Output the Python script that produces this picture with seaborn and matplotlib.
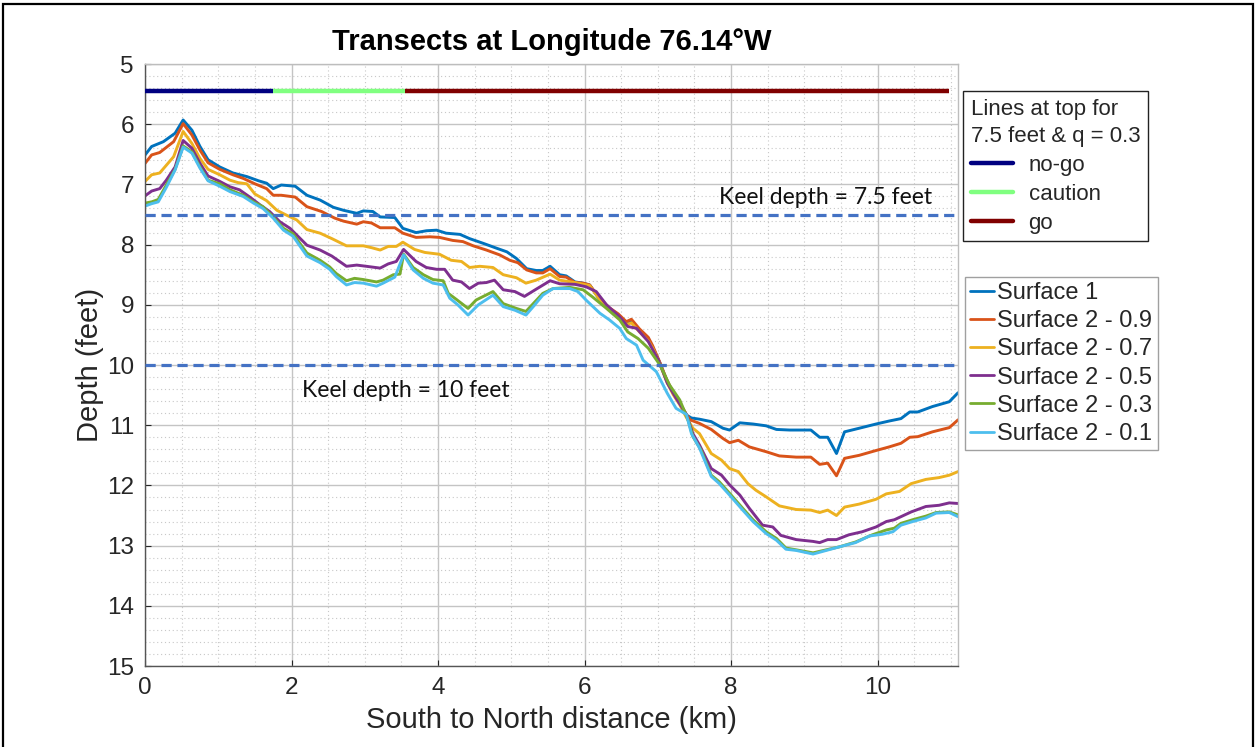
import numpy as np
import pandas as pd
import matplotlib
matplotlib.use("Agg")
import matplotlib.pyplot as plt
from matplotlib.lines import Line2D
from matplotlib.patches import Rectangle
from matplotlib.ticker import MultipleLocator
import seaborn as sns

# ---- transect depth profiles (distance in km, depth in feet) ----
s1_km = [0.0, 0.09, 0.25, 0.41, 0.52, 0.64, 0.75, 0.86, 1.02, 1.20, 1.39, 1.55, 1.66, 1.75, 1.86,
         2.05, 2.21, 2.39, 2.57, 2.71, 2.89, 2.98, 3.11, 3.21, 3.41, 3.52, 3.70, 3.84, 3.98, 4.11,
         4.30, 4.43, 4.62, 4.80, 4.94, 5.07, 5.21, 5.34, 5.43, 5.53, 5.66, 5.75, 5.87, 5.98, 6.07,
         6.21, 6.34, 6.46, 6.57, 6.64, 6.75, 6.87, 6.93, 7.03, 7.12, 7.21, 7.30, 7.39, 7.46, 7.57,
         7.73, 7.89, 7.98, 8.12, 8.30, 8.48, 8.62, 8.80, 9.09, 9.21, 9.32, 9.44, 9.55, 9.75, 9.98,
         10.16, 10.32, 10.44, 10.55, 10.75, 10.98, 11.10]
s1_depth = [6.51, 6.37, 6.29, 6.15, 5.93, 6.10, 6.37, 6.59, 6.71, 6.81, 6.87, 6.94, 6.98, 7.07, 7.01,
            7.03, 7.18, 7.26, 7.38, 7.43, 7.48, 7.44, 7.45, 7.54, 7.55, 7.73, 7.80, 7.77, 7.76, 7.81,
            7.83, 7.90, 7.98, 8.06, 8.12, 8.23, 8.40, 8.43, 8.43, 8.36, 8.50, 8.52, 8.62, 8.64, 8.67,
            8.92, 9.07, 9.17, 9.31, 9.26, 9.42, 9.56, 9.70, 9.97, 10.25, 10.47, 10.64, 10.83, 10.88, 10.90,
            10.94, 11.05, 11.08, 10.96, 10.98, 11.01, 11.07, 11.08, 11.08, 11.20, 11.20, 11.47, 11.11, 11.05, 10.98,
            10.93, 10.89, 10.78, 10.78, 10.69, 10.61, 10.46]

s09_km = [0.0, 0.09, 0.20, 0.39, 0.52, 0.64, 0.75, 0.86, 1.02, 1.20, 1.34, 1.50, 1.66, 1.75, 1.86,
          2.05, 2.21, 2.41, 2.59, 2.71, 2.89, 2.98, 3.09, 3.21, 3.41, 3.52, 3.70, 3.89, 4.02, 4.20,
          4.34, 4.48, 4.66, 4.84, 4.98, 5.09, 5.21, 5.34, 5.43, 5.53, 5.66, 5.75, 5.87, 5.98, 6.07,
          6.21, 6.34, 6.46, 6.57, 6.64, 6.75, 6.87, 6.93, 7.03, 7.12, 7.21, 7.30, 7.39, 7.44, 7.57,
          7.73, 7.89, 7.98, 8.10, 8.25, 8.48, 8.66, 8.89, 9.09, 9.21, 9.32, 9.44, 9.55, 9.75, 9.98,
          10.16, 10.32, 10.44, 10.55, 10.75, 10.98, 11.10]
s09_depth = [6.65, 6.51, 6.47, 6.29, 5.99, 6.18, 6.43, 6.64, 6.75, 6.84, 6.90, 6.99, 7.07, 7.18, 7.18,
             7.21, 7.37, 7.45, 7.56, 7.61, 7.66, 7.62, 7.64, 7.72, 7.72, 7.81, 7.88, 7.87, 7.88, 7.93,
             7.95, 8.02, 8.09, 8.17, 8.26, 8.30, 8.42, 8.47, 8.47, 8.40, 8.53, 8.54, 8.63, 8.64, 8.67,
             8.90, 9.05, 9.15, 9.28, 9.24, 9.40, 9.54, 9.68, 9.96, 10.24, 10.46, 10.63, 10.82, 10.91, 10.97,
             11.07, 11.22, 11.29, 11.25, 11.36, 11.44, 11.51, 11.53, 11.53, 11.65, 11.63, 11.84, 11.55, 11.50, 11.42,
             11.36, 11.30, 11.20, 11.19, 11.11, 11.04, 10.91]

s07_km = [0.0, 0.09, 0.20, 0.39, 0.52, 0.64, 0.75, 0.86, 1.02, 1.16, 1.27, 1.39, 1.50, 1.66, 1.80,
          1.93, 2.07, 2.21, 2.39, 2.55, 2.75, 2.98, 3.09, 3.21, 3.32, 3.43, 3.52, 3.68, 3.82, 4.02,
          4.18, 4.32, 4.43, 4.57, 4.75, 4.89, 5.07, 5.20, 5.34, 5.53, 5.66, 5.87, 6.07, 6.21, 6.34,
          6.46, 6.57, 6.64, 6.75, 6.87, 6.93, 7.03, 7.12, 7.21, 7.30, 7.39, 7.48, 7.57, 7.73, 7.87,
          7.98, 8.10, 8.23, 8.34, 8.48, 8.66, 8.89, 9.09, 9.21, 9.32, 9.44, 9.55, 9.75, 9.98, 10.12,
          10.30, 10.46, 10.66, 10.84, 10.98, 11.10]
s07_depth = [6.95, 6.84, 6.81, 6.54, 6.12, 6.32, 6.57, 6.75, 6.84, 6.93, 6.97, 6.99, 7.16, 7.27, 7.43,
             7.51, 7.59, 7.75, 7.81, 7.90, 8.02, 8.02, 8.05, 8.09, 8.03, 8.03, 7.96, 8.08, 8.13, 8.16,
             8.26, 8.28, 8.38, 8.36, 8.38, 8.50, 8.55, 8.64, 8.59, 8.49, 8.59, 8.63, 8.68, 8.92, 9.08,
             9.19, 9.33, 9.30, 9.45, 9.60, 9.72, 9.98, 10.27, 10.49, 10.66, 10.87, 11.05, 11.14, 11.47, 11.58,
             11.72, 11.77, 11.97, 12.08, 12.19, 12.34, 12.40, 12.41, 12.45, 12.41, 12.50, 12.36, 12.31, 12.23, 12.14,
             12.10, 11.97, 11.90, 11.87, 11.83, 11.77]

s05_km = [0.0, 0.09, 0.20, 0.29, 0.41, 0.52, 0.64, 0.75, 0.86, 1.02, 1.16, 1.29, 1.43, 1.57, 1.70,
          1.84, 1.98, 2.07, 2.21, 2.39, 2.55, 2.75, 2.89, 3.02, 3.21, 3.32, 3.43, 3.53, 3.70, 3.84,
          3.98, 4.09, 4.20, 4.32, 4.43, 4.55, 4.66, 4.77, 4.89, 5.05, 5.18, 5.34, 5.53, 5.66, 5.87,
          6.02, 6.16, 6.30, 6.48, 6.59, 6.71, 6.87, 7.01, 7.13, 7.25, 7.39, 7.48, 7.57, 7.73, 7.87,
          7.98, 8.12, 8.25, 8.43, 8.57, 8.68, 8.89, 9.12, 9.21, 9.32, 9.44, 9.61, 9.79, 9.98, 10.12,
          10.23, 10.46, 10.66, 10.84, 10.98, 11.10]
s05_depth = [7.19, 7.11, 7.07, 6.93, 6.71, 6.27, 6.40, 6.65, 6.86, 6.95, 7.04, 7.09, 7.21, 7.34, 7.45,
             7.62, 7.73, 7.84, 8.01, 8.09, 8.19, 8.36, 8.34, 8.36, 8.39, 8.32, 8.28, 8.08, 8.28, 8.38,
             8.41, 8.41, 8.59, 8.62, 8.73, 8.64, 8.63, 8.59, 8.75, 8.78, 8.86, 8.74, 8.60, 8.65, 8.66,
             8.70, 8.78, 9.00, 9.20, 9.36, 9.39, 9.61, 9.92, 10.30, 10.55, 10.82, 11.14, 11.33, 11.72, 11.83,
             11.99, 12.16, 12.38, 12.66, 12.69, 12.83, 12.90, 12.93, 12.95, 12.90, 12.90, 12.82, 12.77, 12.69, 12.60,
             12.57, 12.44, 12.35, 12.33, 12.29, 12.30]

s03_km = [0.0, 0.09, 0.18, 0.29, 0.41, 0.52, 0.64, 0.75, 0.86, 1.02, 1.16, 1.34, 1.48, 1.61, 1.75,
          1.89, 2.02, 2.21, 2.39, 2.52, 2.61, 2.75, 2.86, 2.98, 3.16, 3.25, 3.39, 3.48, 3.53, 3.66,
          3.80, 3.93, 4.07, 4.14, 4.25, 4.41, 4.52, 4.75, 4.89, 5.07, 5.20, 5.30, 5.43, 5.57, 5.80,
          5.98, 6.11, 6.30, 6.48, 6.59, 6.73, 6.87, 7.03, 7.16, 7.30, 7.41, 7.48, 7.59, 7.73, 7.84,
          7.98, 8.16, 8.30, 8.48, 8.62, 8.75, 8.89, 9.12, 9.30, 9.48, 9.70, 9.93, 10.12, 10.23, 10.32,
          10.48, 10.66, 10.80, 10.98, 11.10]
s03_depth = [7.31, 7.29, 7.25, 7.01, 6.75, 6.36, 6.46, 6.71, 6.93, 6.99, 7.09, 7.18, 7.29, 7.37, 7.54,
             7.73, 7.82, 8.14, 8.26, 8.37, 8.48, 8.60, 8.56, 8.58, 8.62, 8.59, 8.50, 8.49, 8.16, 8.38,
             8.50, 8.58, 8.60, 8.81, 8.91, 9.06, 8.92, 8.78, 8.98, 9.06, 9.11, 8.98, 8.81, 8.73, 8.71,
             8.75, 8.87, 9.06, 9.25, 9.45, 9.56, 9.72, 10.00, 10.33, 10.58, 10.90, 11.19, 11.41, 11.83, 11.94,
             12.13, 12.38, 12.57, 12.77, 12.88, 13.04, 13.07, 13.12, 13.07, 13.02, 12.94, 12.82, 12.74, 12.71, 12.63,
             12.57, 12.51, 12.45, 12.44, 12.49]

s01_km = [0.0, 0.09, 0.18, 0.29, 0.41, 0.52, 0.64, 0.75, 0.86, 1.02, 1.16, 1.34, 1.48, 1.61, 1.75,
          1.89, 2.02, 2.21, 2.39, 2.52, 2.61, 2.75, 2.86, 2.98, 3.16, 3.25, 3.41, 3.53, 3.66, 3.80,
          3.93, 4.07, 4.16, 4.27, 4.41, 4.55, 4.75, 4.89, 5.05, 5.20, 5.30, 5.43, 5.57, 5.80, 5.91,
          6.02, 6.21, 6.34, 6.48, 6.57, 6.71, 6.80, 6.98, 7.13, 7.25, 7.39, 7.46, 7.57, 7.73, 7.84,
          7.98, 8.16, 8.30, 8.48, 8.62, 8.75, 8.89, 9.12, 9.30, 9.48, 9.70, 9.89, 10.07, 10.21, 10.32,
          10.48, 10.66, 10.80, 10.98, 11.10]
s01_depth = [7.36, 7.32, 7.29, 7.05, 6.76, 6.38, 6.48, 6.73, 6.94, 7.03, 7.12, 7.20, 7.31, 7.40, 7.56,
             7.76, 7.86, 8.19, 8.30, 8.41, 8.53, 8.67, 8.63, 8.64, 8.69, 8.64, 8.54, 8.17, 8.42, 8.56,
             8.64, 8.67, 8.89, 9.00, 9.17, 9.00, 8.84, 9.03, 9.09, 9.17, 9.03, 8.84, 8.73, 8.73, 8.78,
             8.92, 9.14, 9.25, 9.39, 9.56, 9.67, 9.92, 10.11, 10.47, 10.72, 10.82, 11.14, 11.38, 11.85, 11.97,
             12.16, 12.41, 12.60, 12.80, 12.91, 13.06, 13.08, 13.14, 13.08, 13.02, 12.95, 12.84, 12.81, 12.77, 12.66,
             12.60, 12.54, 12.46, 12.45, 12.52]

surface_names = ["Surface 1", "Surface 2 - 0.9", "Surface 2 - 0.7",
                 "Surface 2 - 0.5", "Surface 2 - 0.3", "Surface 2 - 0.1"]
surface_colors = ["#0072BD", "#D95319", "#EDB120", "#7E2F8E", "#77AC30", "#4DBEEE"]

# ---- navigability status along the transect (7.5 ft keel, q = 0.3) ----
status_edges_km = [0.0, 1.75, 3.55, 10.97]
status_names = ["no-go", "caution", "go"]
status_colors = ["#000080", "#80FF80", "#800000"]
status_depth = 5.45

keel_depths = [7.5, 10.0]
keel_labels = ["Keel depth = 7.5 feet", "Keel depth = 10 feet"]

series = [(s1_km, s1_depth), (s09_km, s09_depth), (s07_km, s07_depth),
          (s05_km, s05_depth), (s03_km, s03_depth), (s01_km, s01_depth)]
frames = [pd.DataFrame({"km": xs, "depth": ys, "surface": name})
          for (xs, ys), name in zip(series, surface_names)]
df = pd.concat(frames, ignore_index=True)

sns.set_theme(style="white")
plt.rcParams["font.family"] = ["Liberation Sans", "DejaVu Sans"]

fig = plt.figure(figsize=(12.57, 7.47), dpi=100)
ax = fig.add_axes([0.1154, 0.1084, 0.6468, 0.8059])

sns.lineplot(data=df, x="km", y="depth", hue="surface", hue_order=surface_names,
             palette=surface_colors, sort=False, estimator=None, linewidth=2.1,
             legend=False, ax=ax)

# status bars along the top
for i, name in enumerate(status_names):
    ax.plot([status_edges_km[i], status_edges_km[i + 1]], [status_depth, status_depth],
            color=status_colors[i], lw=3.2, solid_capstyle="butt", zorder=4)

# keel depth reference lines
for d in keel_depths:
    ax.axhline(d, color="#4472C4", lw=2.3, ls=(0, (3.2, 1.8)), zorder=3)
ax.text(7.84, 7.21, keel_labels[0], fontsize=16.5, family=["Lato", "DejaVu Sans"],
        va="center", ha="left", color="#111111")
ax.text(2.14, 10.42, keel_labels[1], fontsize=16.5, family=["Lato", "DejaVu Sans"],
        va="center", ha="left", color="#111111")

ax.set_xlim(0, 11.1)
ax.set_ylim(15, 5)
ax.xaxis.set_major_locator(MultipleLocator(2))
ax.xaxis.set_minor_locator(MultipleLocator(0.5))
ax.yaxis.set_major_locator(MultipleLocator(1))
ax.yaxis.set_minor_locator(MultipleLocator(0.2))
ax.grid(which="major", color="#c4c4c4", lw=1.0)
ax.grid(which="minor", color="#c8c8c8", lw=0.8, ls=(0, (1, 2.5)))
ax.set_axisbelow(True)
ax.tick_params(which="both", direction="in", labelsize=17.5, colors="#262626",
               length=4, width=0.8, left=True, bottom=True, pad=8)
ax.tick_params(which="minor", length=0)
for side in ["left", "bottom"]:
    ax.spines[side].set_color("#555555")
for side in ["top", "right"]:
    ax.spines[side].set_color("#bdbdbd")
for sp in ax.spines.values():
    sp.set_linewidth(1.0)

ax.set_xlabel("South to North distance (km)", fontsize=21, color="#262626", labelpad=5)
ax.set_ylabel("Depth (feet)", fontsize=21, color="#262626", labelpad=2)
ax.set_title("Transects at Longitude 76.14°W", fontsize=21, fontweight="bold",
             color="black", pad=10)

# legends outside the axes on the right
status_handles = [Line2D([], [], color=c, lw=3.2) for c in status_colors]
leg1 = ax.legend(status_handles, status_names, title="Lines at top for\n7.5 feet & q = 0.3",
                 loc="upper left", bbox_to_anchor=(963 / 1257, 1 - 91 / 747),
                 bbox_transform=fig.transFigure, fontsize=16, title_fontsize=16,
                 frameon=True, fancybox=False, edgecolor="#222222", framealpha=1,
                 handlelength=1.9, handletextpad=0.7, labelspacing=0.35,
                 borderpad=0.35, borderaxespad=0, alignment="left")
leg1.get_title().set_linespacing(1.4)
leg1.get_frame().set_linewidth(1.0)
ax.add_artist(leg1)

surf_handles = [Line2D([], [], color=c, lw=2.0) for c in surface_colors]
leg2 = ax.legend(surf_handles, surface_names, loc="upper left",
                 bbox_to_anchor=(965 / 1257, 1 - 277 / 747), bbox_transform=fig.transFigure,
                 fontsize=17, frameon=True, fancybox=False, edgecolor="#a0a0a0",
                 framealpha=1, handlelength=1.0, handletextpad=0.15, labelspacing=0.26,
                 borderpad=0.22, borderaxespad=0)
leg2.get_frame().set_linewidth(1.0)

# outer frame
fig.patches.append(Rectangle((3 / 1257, -0.02), 1250 / 1257, 1.02 - 4 / 747,
                             transform=fig.transFigure, fill=False, edgecolor="black",
                             lw=1.6, zorder=10))

fig.savefig("out.png", dpi=100, facecolor="white")
